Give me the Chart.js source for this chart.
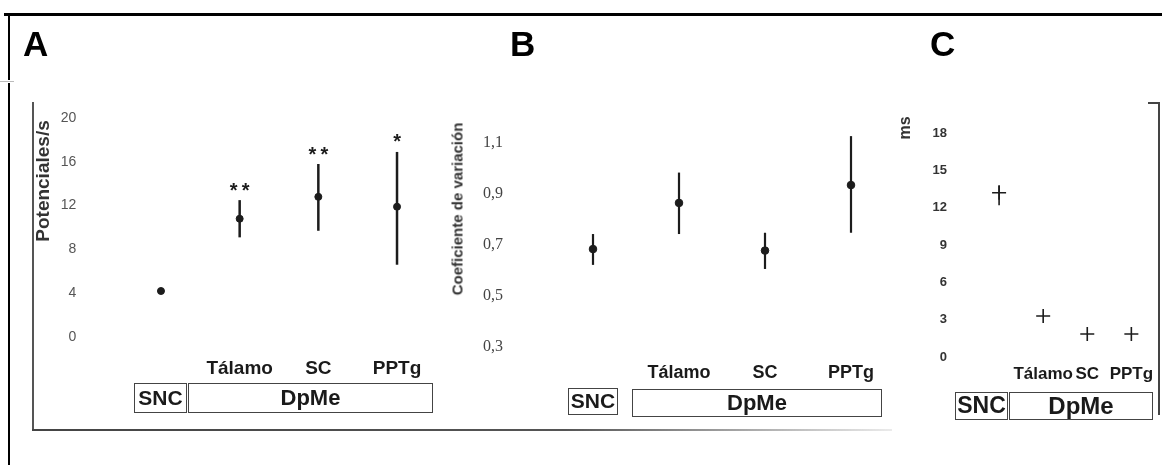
<!DOCTYPE html>
<html>
<head>
<meta charset="utf-8">
<script src="https://cdn.jsdelivr.net/npm/chart.js@4.4.1/dist/chart.umd.min.js"></script>
<style>
    body { margin: 0; background: #fff; }
    #page { position: relative; width: 1162px; height: 465px; overflow: hidden; font-family: "Liberation Sans", Arial, sans-serif; }
    canvas { position: absolute; left: 0; top: 0; }
    .line { position: absolute; }
    .letra { position: absolute; font-weight: bold; font-size: 35px; line-height: 35px; color: #000; }
    .titulo { position: absolute; font-weight: bold; color: #333; white-space: nowrap; transform: translate(-50%, -50%) rotate(-90deg); }
    .caja { position: absolute; box-sizing: border-box; border: 1.5px solid #444; font-weight: bold; color: #1a1a1a; text-align: center; white-space: nowrap; }
</style>
</head>
<body>
<div id="page">
    <canvas id="chartA" width="1162" height="465"></canvas>
    <canvas id="chartB" width="1162" height="465"></canvas>
    <canvas id="chartC" width="1162" height="465"></canvas>

    <!-- marco exterior -->
    <div class="line" style="left:4px; top:13px; width:1158px; height:2.5px; background:#000;"></div>
    <div class="line" style="left:8px; top:13px; width:2px; height:67px; background:#000;"></div>
    <div class="line" style="left:8px; top:83px; width:2px; height:382px; background:#000;"></div>
    <div class="line" style="left:0px; top:81px; width:14px; height:1px; background:#bbb;"></div>
    <!-- marco de la figura escaneada -->
    <div class="line" style="left:32px; top:102px; width:1.5px; height:328px; background:#555;"></div>
    <div class="line" style="left:32px; top:429px; width:860px; height:1.5px; background:linear-gradient(to right, #444 0%, #555 62%, rgba(120,120,120,0.15) 100%);"></div>
    <div class="line" style="left:1158px; top:102px; width:1.5px; height:313px; background:#444;"></div>
    <div class="line" style="left:1148px; top:102px; width:11px; height:1.5px; background:#444;"></div>

    <div class="letra" style="left:23px; top:26px;">A</div>
    <div class="letra" style="left:510px; top:26px;">B</div>
    <div class="letra" style="left:930px; top:26px;">C</div>

    <div class="titulo" style="left:43px; top:181px; font-size:19px;">Potenciales/s</div>
    <div class="titulo" style="left:457px; top:209px; font-size:15px;">Coeficiente de variación</div>
    <div class="titulo" style="left:905px; top:128px; font-size:16px;">ms</div>

    <div class="caja" style="left:134px; top:383px; width:53px; height:30px; font-size:21px; line-height:27px;">SNC</div>
    <div class="caja" style="left:188px; top:383px; width:245px; height:30px; font-size:22px; line-height:27px;">DpMe</div>
    <div class="caja" style="left:568px; top:388px; width:50px; height:27px; font-size:21px; line-height:24px;">SNC</div>
    <div class="caja" style="left:632px; top:389px; width:250px; height:28px; font-size:22px; line-height:25px;">DpMe</div>
    <div class="caja" style="left:955px; top:392px; width:53px; height:28px; font-size:23px; line-height:25px;">SNC</div>
    <div class="caja" style="left:1009px; top:392px; width:144px; height:28px; font-size:24px; line-height:25px;">DpMe</div>
</div>

<script>
// Categorias comunes a los tres paneles
const categorias = ['SNC', 'Tálamo', 'SC', 'PPTg'];

// A: frecuencia de disparo (potenciales/s), media y limites de la barra de error
const frecMedia = [4.2, 10.8, 12.8, 11.9];
const frecBajo = [4.0, 9.1, 9.7, 6.6];
const frecAlto = [4.4, 12.5, 15.8, 16.9];
const frecSignif = ['', '**', '**', '*'];
const frecTicks = [0, 4, 8, 12, 16, 20];

// B: coeficiente de variacion
const cvMedia = [0.684, 0.865, 0.678, 0.935];
const cvBajo = [0.622, 0.743, 0.606, 0.748];
const cvAlto = [0.743, 0.984, 0.748, 1.127];
const cvTicks = [0.3, 0.5, 0.7, 0.9, 1.1];

// C: latencia (ms)
const msMedia = [13.2, 3.3, 1.85, 1.85];
const msBajo = [12.2, null, null, null];
const msAlto = [13.8, null, null, null];
const msTicks = [0, 3, 6, 9, 12, 15, 18];

const FUENTE = '"Liberation Sans", Arial, sans-serif';

// Plugin para dibujar las barras de error y los asteriscos
function barrasError(bajo, alto, signif, grosor) {
    return {
        id: 'barrasError',
        beforeDatasetsDraw(chart) {
            const ctx = chart.ctx;
            const x = chart.scales.x;
            const y = chart.scales.y;
            ctx.save();
            ctx.strokeStyle = '#1c1c1c';
            ctx.fillStyle = '#1c1c1c';
            ctx.lineWidth = grosor;
            bajo.forEach((v, i) => {
                if (v == null) return;
                const px = x.getPixelForValue(i);
                const arriba = y.getPixelForValue(alto[i]);
                ctx.beginPath();
                ctx.moveTo(px, y.getPixelForValue(v));
                ctx.lineTo(px, arriba);
                ctx.stroke();

                const s = signif ? signif[i] : '';
                if (s) {
                    ctx.font = 'bold 20px ' + FUENTE;
                    ctx.textAlign = 'center';
                    ctx.textBaseline = 'middle';
                    for (let k = 0; k < s.length; k++) {
                        const dx = (k - (s.length - 1) / 2) * 12;
                        ctx.fillText('*', px + dx, arriba - 9);
                    }
                }
            });
            ctx.restore();
        }
    };
}

function crearPanel(id, o) {
    return new Chart(document.getElementById(id), {
        type: 'scatter',
        data: {
            datasets: [{
                data: o.media.map((v, i) => ({ x: i, y: v })),
                pointStyle: o.estilo,
                pointRadius: o.radio,
                borderWidth: o.borde,
                borderColor: '#1c1c1c',
                backgroundColor: '#1c1c1c',
                clip: false,
            }],
        },
        options: {
            responsive: false,
            animation: false,
            events: [],
            layout: { padding: { left: o.izq, top: o.arriba, right: 1162 - o.der, bottom: 0 } },
            plugins: { legend: { display: false }, tooltip: { enabled: false } },
            scales: {
                x: {
                    type: 'linear',
                    min: -1,
                    max: o.xmax,
                    grid: { display: false, drawTicks: false },
                    border: { display: false },
                    afterBuildTicks: s => { s.ticks = categorias.map((c, i) => ({ value: i })); },
                    afterFit: s => { s.height = 465 - o.abajo; },
                    ticks: {
                        autoSkip: false,
                        maxRotation: 0,
                        padding: o.xPad,
                        color: '#1a1a1a',
                        font: { family: FUENTE, size: o.xFuente, weight: 'bold' },
                        callback: v => (v === 0 ? '' : categorias[v]),
                    },
                },
                y: {
                    min: o.ymin,
                    max: o.ymax,
                    grid: { display: false, drawTicks: false },
                    border: { display: false },
                    afterBuildTicks: s => { s.ticks = o.ticks.map(v => ({ value: v })); },
                    afterFit: s => { s.width = o.ancho; },
                    ticks: {
                        padding: o.yPad,
                        color: o.yColor,
                        font: o.yFuente,
                        callback: o.formato,
                    },
                },
            },
        },
        plugins: [barrasError(o.bajo, o.alto, o.signif, o.grosor)],
    });
}

crearPanel('chartA', {
    media: frecMedia, bajo: frecBajo, alto: frecAlto, signif: frecSignif, ticks: frecTicks,
    ymin: 0, ymax: 20, xmax: 4,
    izq: 30, ancho: 52.3, der: 475.7, arriba: 118, abajo: 337,
    estilo: 'circle', radio: 3.5, borde: 1, grosor: 2.5,
    xPad: 20, xFuente: 19,
    yPad: 6, yColor: '#555', yFuente: { family: FUENTE, size: 14 },
    formato: v => String(v),
});

crearPanel('chartB', {
    media: cvMedia, bajo: cvBajo, alto: cvAlto, signif: null, ticks: cvTicks,
    ymin: 0.3, ymax: 1.1, xmax: 3.5,
    izq: 470, ancho: 37, der: 894, arriba: 143, abajo: 347,
    estilo: 'circle', radio: 3.8, borde: 1, grosor: 2.2,
    xPad: 15, xFuente: 18,
    yPad: 4, yColor: '#444', yFuente: { family: '"Liberation Serif", "DejaVu Serif", serif', size: 16 },
    formato: v => v.toFixed(1).replace('.', ','),
});

crearPanel('chartC', {
    media: msMedia, bajo: msBajo, alto: msAlto, signif: null, ticks: msTicks,
    ymin: 0, ymax: 18, xmax: 3.5,
    izq: 920, ancho: 35, der: 1157.5, arriba: 133, abajo: 357,
    estilo: 'cross', radio: 7, borde: 1.6, grosor: 1.6,
    xPad: 7, xFuente: 17,
    yPad: 8, yColor: '#333', yFuente: { family: FUENTE, size: 13, weight: 'bold' },
    formato: v => String(v),
});
</script>
</body>
</html>
